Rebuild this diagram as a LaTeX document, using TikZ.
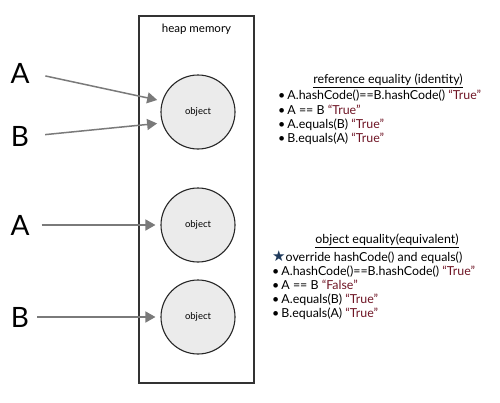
\documentclass[tikz,border=0pt]{standalone}
\usepackage{fontspec}
\setmainfont{Lato}
\newfontfamily\symfont{DejaVu Sans}
\usetikzlibrary{positioning,arrows.meta}
\definecolor{truered}{HTML}{6E1424}
\definecolor{starblue}{HTML}{1F3A5C}
\definecolor{ptrgray}{HTML}{7A7A7A}
\newcommand{\tval}[1]{\textcolor{truered}{“#1”}}

\begin{document}
\begin{tikzpicture}[x=1pt,y=-1pt,
  obj/.style={circle,draw=black!85,line width=1.1pt,fill=black!8,minimum size=74pt,inner sep=0pt,font=\fontsize{9.5}{10}\selectfont},
  var/.style={font=\fontsize{28}{30}\selectfont,inner sep=2pt},
  ptr/.style={draw=ptrgray,line width=1.5pt,-{Triangle[length=10pt,width=11pt]}},
  lab/.style={font=\fontsize{12.4}{14.2}\selectfont,align=left,inner sep=0pt}]
\useasboundingbox (0,0) rectangle (500,402);
% heap memory with three objects
\draw[line width=1.2pt,black!80] (139,16) rectangle (254,383);
\node[font=\fontsize{11.5}{12}\selectfont] (heap) at (196.5,29) {heap memory};
\node[obj] (o1) at (198,112) {object};
\node[obj] (o2) at (198,225) {object};
\node[obj] (o3) at (198,317) {object};
% references
\node[var] (a1) at (20,73) {A};
\node[var] (b1) at (20,136) {B};
\node[var] (a2) at (20,225) {A};
\node[var] (b2) at (20,317) {B};
\draw[ptr,shorten <=14pt,shorten >=5pt] (a1.east) -- (o1.163);
\draw[ptr,shorten <=14pt,shorten >=5pt] (b1.east) -- (o1.197);
\draw[ptr,shorten <=10pt,shorten >=5pt] (a2.east) -- (o2.west);
\draw[ptr,shorten <=6pt,shorten >=5pt] (b2.east) -- (o3.west);
% explanations
\node[lab] (t1) at (388,81) {\underline{reference equality (identity)}};
\node[lab,anchor=north west] (l1) at (278,90) {%
  \textbullet\,A.hashCode()==B.hashCode() \tval{True}\\
  \textbullet\,A == B \tval{True}\\
  \textbullet\,A.equals(B) \tval{True}\\
  \textbullet\,B.equals(A) \tval{True}};
\node[lab] (t2) at (387,241) {\underline{object equality(equivalent)}};
\node[lab,anchor=north west] (l2) at (272,250) {%
  {\symfont\fontsize{15}{14}\selectfont\textcolor{starblue}{★}}override hashCode() and equals()\\
  \textbullet\,A.hashCode()==B.hashCode() \tval{True}\\
  \textbullet\,A == B \tval{False}\\
  \textbullet\,A.equals(B) \tval{True}\\
  \textbullet\,B.equals(A) \tval{True}};
\end{tikzpicture}
\end{document}
